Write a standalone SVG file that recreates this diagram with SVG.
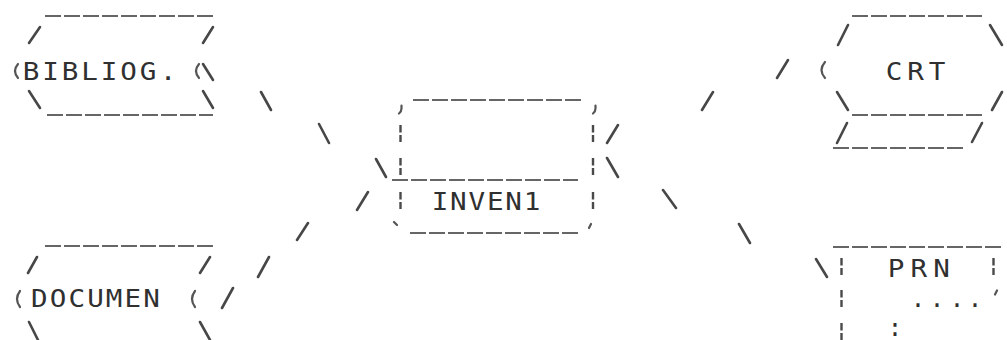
<svg xmlns="http://www.w3.org/2000/svg" width="1007" height="340" viewBox="0 0 1007 340">
<style>
.s{stroke:#474747;stroke-width:2.6;stroke-linecap:round;fill:none}
.d{stroke:#666;stroke-width:1.8;stroke-dasharray:16 3;fill:none}
.b{stroke:#4a4a4a;stroke-width:2.4;stroke-dasharray:7.5 2.5;fill:none}
.m{stroke:#555;stroke-width:2.2;stroke-linecap:round;fill:none}
.t{font-family:"DejaVu Sans Mono","Liberation Mono",monospace;font-size:24px;fill:#303030;text-anchor:middle}
</style>
<rect width="1007" height="340" fill="#ffffff"/>
<g id="bibliog">
<path class="d" d="M45,16H215M47,115H213"/>
<path class="s" d="M29,43L40,27M203,43L213,27M203,64L213,80M29,91L40,108M203,91L213,108"/>
<path class="m" d="M18,64Q12,71 18,78M199,64Q193,71 199,78"/>
<text class="t" transform="scale(1.15 1)" x="26.96 43.91 60.87 77.83 94.78 111.74 128.70 146.09" y="80">BIBLIOG.</text>
</g>
<g id="documen">
<path class="d" d="M45,246H215"/>
<path class="s" d="M28,273L37,257M200,273L210,257M29,322L38,340M200,322L210,340"/>
<path class="m" d="M20,291Q14,299 20,307M195,291Q189,299 195,307"/>
<text class="t" transform="scale(1.15 1)" x="34.26 50.52 66.78 83.04 99.30 115.57 131.83" y="307">DOCUMEN</text>
</g>
<g id="inven1">
<path class="d" d="M413,100H582M392,180H578M410,233H578"/>
<path class="b" d="M400.5,125V142M400.5,158V175M400.5,192V209M593,125V142M593,158V175M593,192V209"/>
<path class="m" d="M401.5,105.5V108.5Q401.5,111.5 399,113.5M595.5,105.5V108.5Q595.5,111.5 593,113.5M394,222L397,225M591,224L589,228"/>
<text class="t" transform="scale(1.15 1)" x="382.61 398.61 414.61 430.61 446.61 462.61" y="210">INVEN1</text>
</g>
<g id="crt">
<path class="d" d="M852,16H985M852,115H982M833,148H965"/>
<path class="s" d="M838,45L848,25M990,25L1002,45M837,92L848,110M992,110L1002,92M837,143L847,123M972,142L982,123"/>
<path class="m" d="M825,62Q818,70 825,78"/>
<text class="t" transform="scale(1.15 1)" x="777.39 796.09 814.78" y="80">CRT</text>
</g>
<g id="prn">
<path class="d" d="M833,247H1003"/>
<path class="b" d="M841.5,258V275M841.5,290V307M841.5,323V340M993.5,258V275"/>
<path class="m" d="M997,290.5L995,294.5"/>
<text class="t" transform="scale(1.15 1)" x="779.13 798.91 818.70" y="277">PRN</text>
<text class="t" x="918 937 957 975" y="307">....</text>
<text class="t" x="895" y="336">:</text>
</g>
<g id="connectors">
<path class="s" d="M261,92L271,110M319,124L329,143M376,159L386,177"/>
<path class="s" d="M357,210L368,192M297,240L308,223M258,277L269,257M222,308L233,288"/>
<path class="s" d="M607,143L618,125M702,110L713,92M777,78L788,60"/>
<path class="s" d="M607,158L618,177M663,190L676,208M739,224L750,243M816,259L827,277"/>
</g>
</svg>
